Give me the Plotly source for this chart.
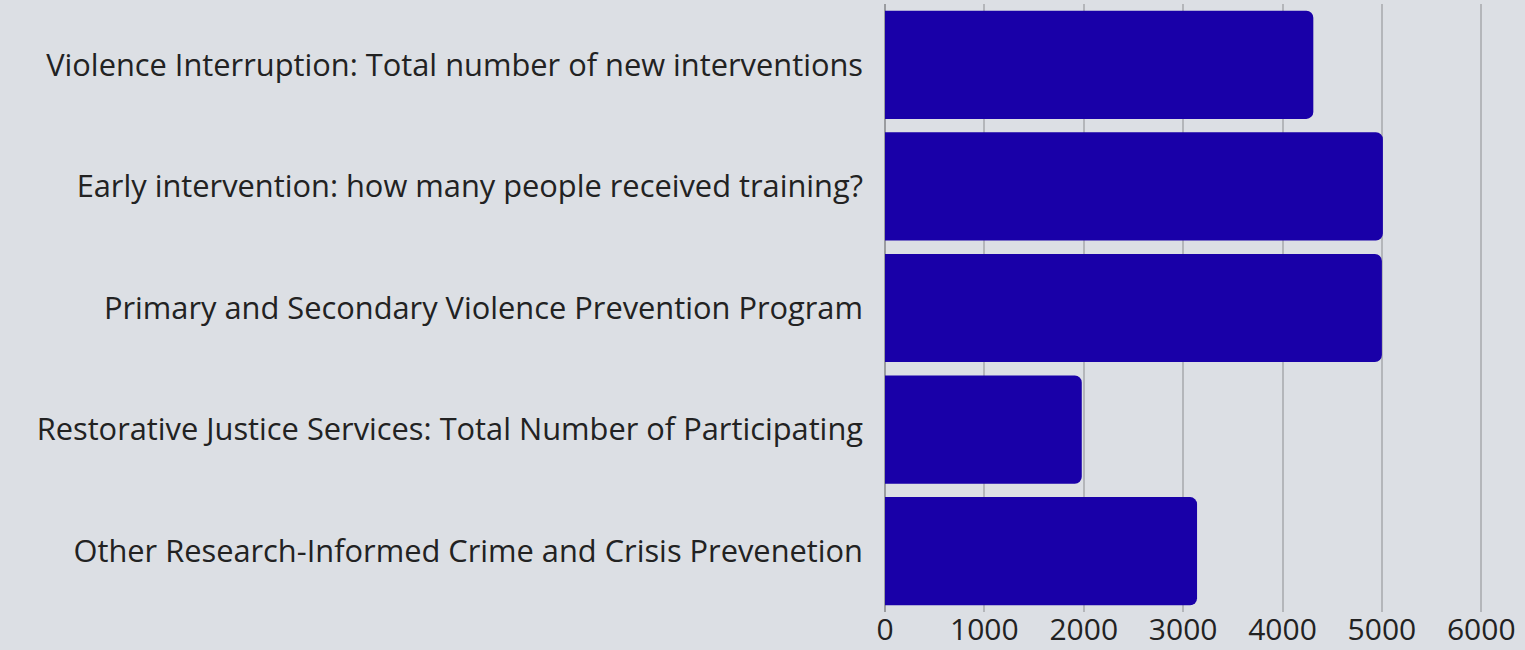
import plotly.graph_objects as go

categories = [
    "Violence Interruption: Total number of new interventions",
    "Early intervention: how many people received training?",
    "Primary and Secondary Violence Prevention Program",
    "Restorative Justice Services: Total Number of Participating",
    "Other Research-Informed Crime and Crisis Prevenetion",
]
values = [4310, 5010, 5000, 1980, 3140]
tick_vals = [0, 1000, 2000, 3000, 4000, 5000, 6000]

BG = "#dcdfe4"
BAR = "#1900a8"

fig = go.Figure(
    go.Bar(
        x=values,
        y=categories,
        orientation="h",
        marker=dict(color=BAR, line=dict(width=0), cornerradius=7),
    )
)

fig.update_layout(
    width=1525,
    height=650,
    paper_bgcolor=BG,
    plot_bgcolor=BG,
    margin=dict(l=885, r=0, t=4, b=38, autoexpand=False),
    bargap=0.11,
    showlegend=False,
    font=dict(family="Open Sans", color="#222222"),
)

fig.update_yaxes(
    autorange="reversed",
    automargin=False,
    tickfont=dict(size=30.8, family="Open Sans", color="#222222"),
    ticklabelstandoff=21,
    showgrid=False,
    showline=False,
    ticks="",
)

fig.update_xaxes(
    range=[0, 6440],
    automargin=False,
    tickvals=tick_vals,
    tickfont=dict(size=30, family="Open Sans", color="#222222"),
    ticklabelstandoff=-3,
    showgrid=True,
    gridcolor="#b4b6ba",
    gridwidth=2,
    zeroline=True,
    zerolinecolor="#9a9ca0",
    zerolinewidth=2,
    showline=False,
    ticks="",
)

fig.write_html(
    "out.html",
    config={"displayModeBar": False},
    post_script="document.body.style.margin='0';document.body.style.background='%s';" % BG,
)
